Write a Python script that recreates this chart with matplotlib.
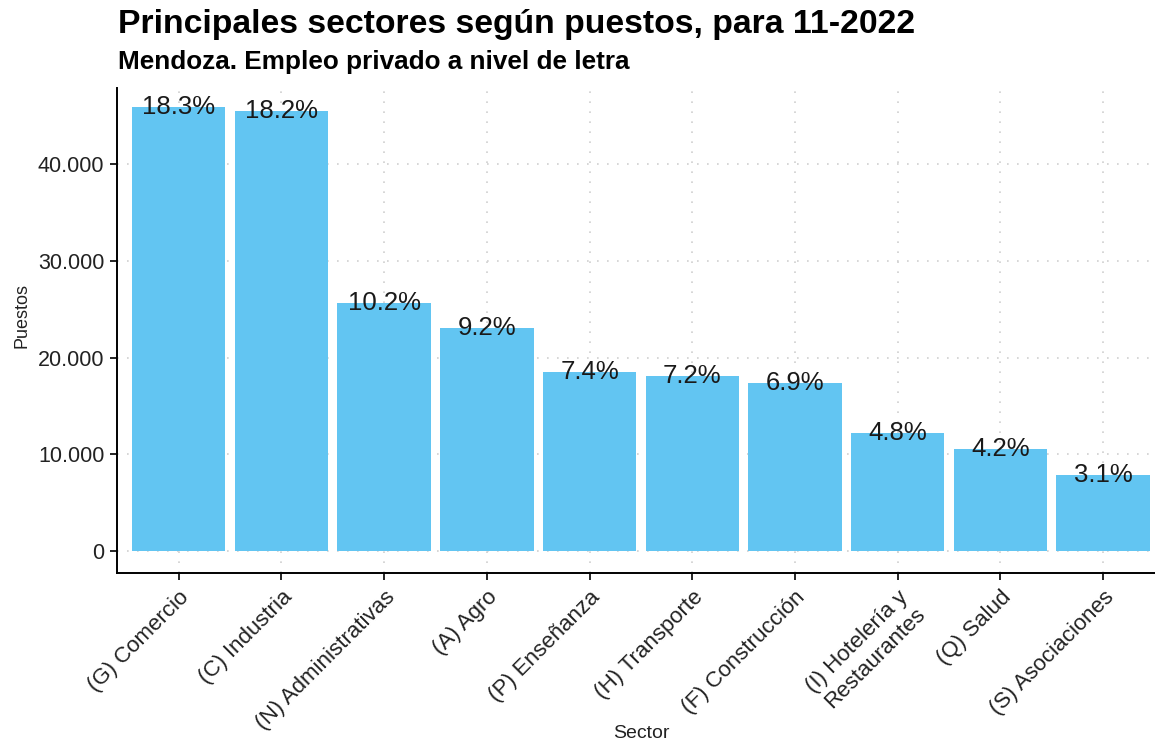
import matplotlib
matplotlib.use("Agg")
import matplotlib.pyplot as plt
from matplotlib.ticker import FuncFormatter

plt.rcParams['font.family'] = ['Liberation Sans', 'DejaVu Sans']

sectores = ["(G) Comercio", "(C) Industria", "(N) Administrativas", "(A) Agro",
            "(P) Enseñanza", "(H) Transporte", "(F) Construcción",
            "(I) Hotelería y\nRestaurantes", "(Q) Salud", "(S) Asociaciones"]
puestos = [45890, 45480, 25630, 23050, 18500, 18090, 17360, 12200, 10540, 7860]
porcentajes = ["18.3%", "18.2%", "10.2%", "9.2%", "7.4%", "7.2%", "6.9%", "4.8%", "4.2%", "3.1%"]
yticks = [0, 10000, 20000, 30000, 40000]

W, H = 1155, 742
fig = plt.figure(figsize=(W/100, H/100), dpi=100)
left, right, bottom, top = 117, 1155, 573, 88
ax = fig.add_axes([left/W, 1-bottom/H, (right-left)/W, (bottom-top)/H])

x = list(range(len(sectores)))
ax.set_axisbelow(True)
ax.grid(True, which='major', color='#d0d0d0', linestyle=(0, (1, 5)), linewidth=1.2)
ax.bar(x, puestos, width=0.91, color='#62C5F2', zorder=2)
for xi, v, p in zip(x, puestos, porcentajes):
    ax.text(xi, v, p, ha='center', va='center', fontsize=18.5, color='#1a1a1a', zorder=3)

ax.set_xlim(-0.6, 9.505)
ax.set_ylim(-2280, 47900)
ax.set_yticks(yticks)
ax.yaxis.set_major_formatter(FuncFormatter(lambda v, pos: f"{int(v):,}".replace(",", ".")))
ax.set_xticks(x)
ax.set_xticklabels(sectores, rotation=45, ha='right', va='top', rotation_mode='anchor',
                   fontsize=16, color='#222222', linespacing=1.2)
ax.tick_params(axis='y', labelsize=15.5, labelcolor='#222222', length=5, width=1.2, pad=4)
ax.tick_params(axis='x', length=5, width=1.2, pad=5)
for s in ['top', 'right']:
    ax.spines[s].set_visible(False)
for s in ['left', 'bottom']:
    ax.spines[s].set_linewidth(1.4)
    ax.spines[s].set_color('black')

fig.text(22/W, 1-315/H, "Puestos", ha='center', va='center', rotation=90, fontsize=13, color='#222222')
fig.text(641/W, 1-733/H, "Sector", ha='center', va='center', fontsize=14, color='#222222')
fig.text(118/W, 1-25/H, "Principales sectores según puestos, para 11-2022", ha='left', va='center',
         fontsize=24.3, fontweight='bold')
fig.text(118/W, 1-62/H, "Mendoza. Empleo privado a nivel de letra", ha='left', va='center',
         fontsize=18.8, fontweight='bold')

fig.savefig("out.png", dpi=100)
